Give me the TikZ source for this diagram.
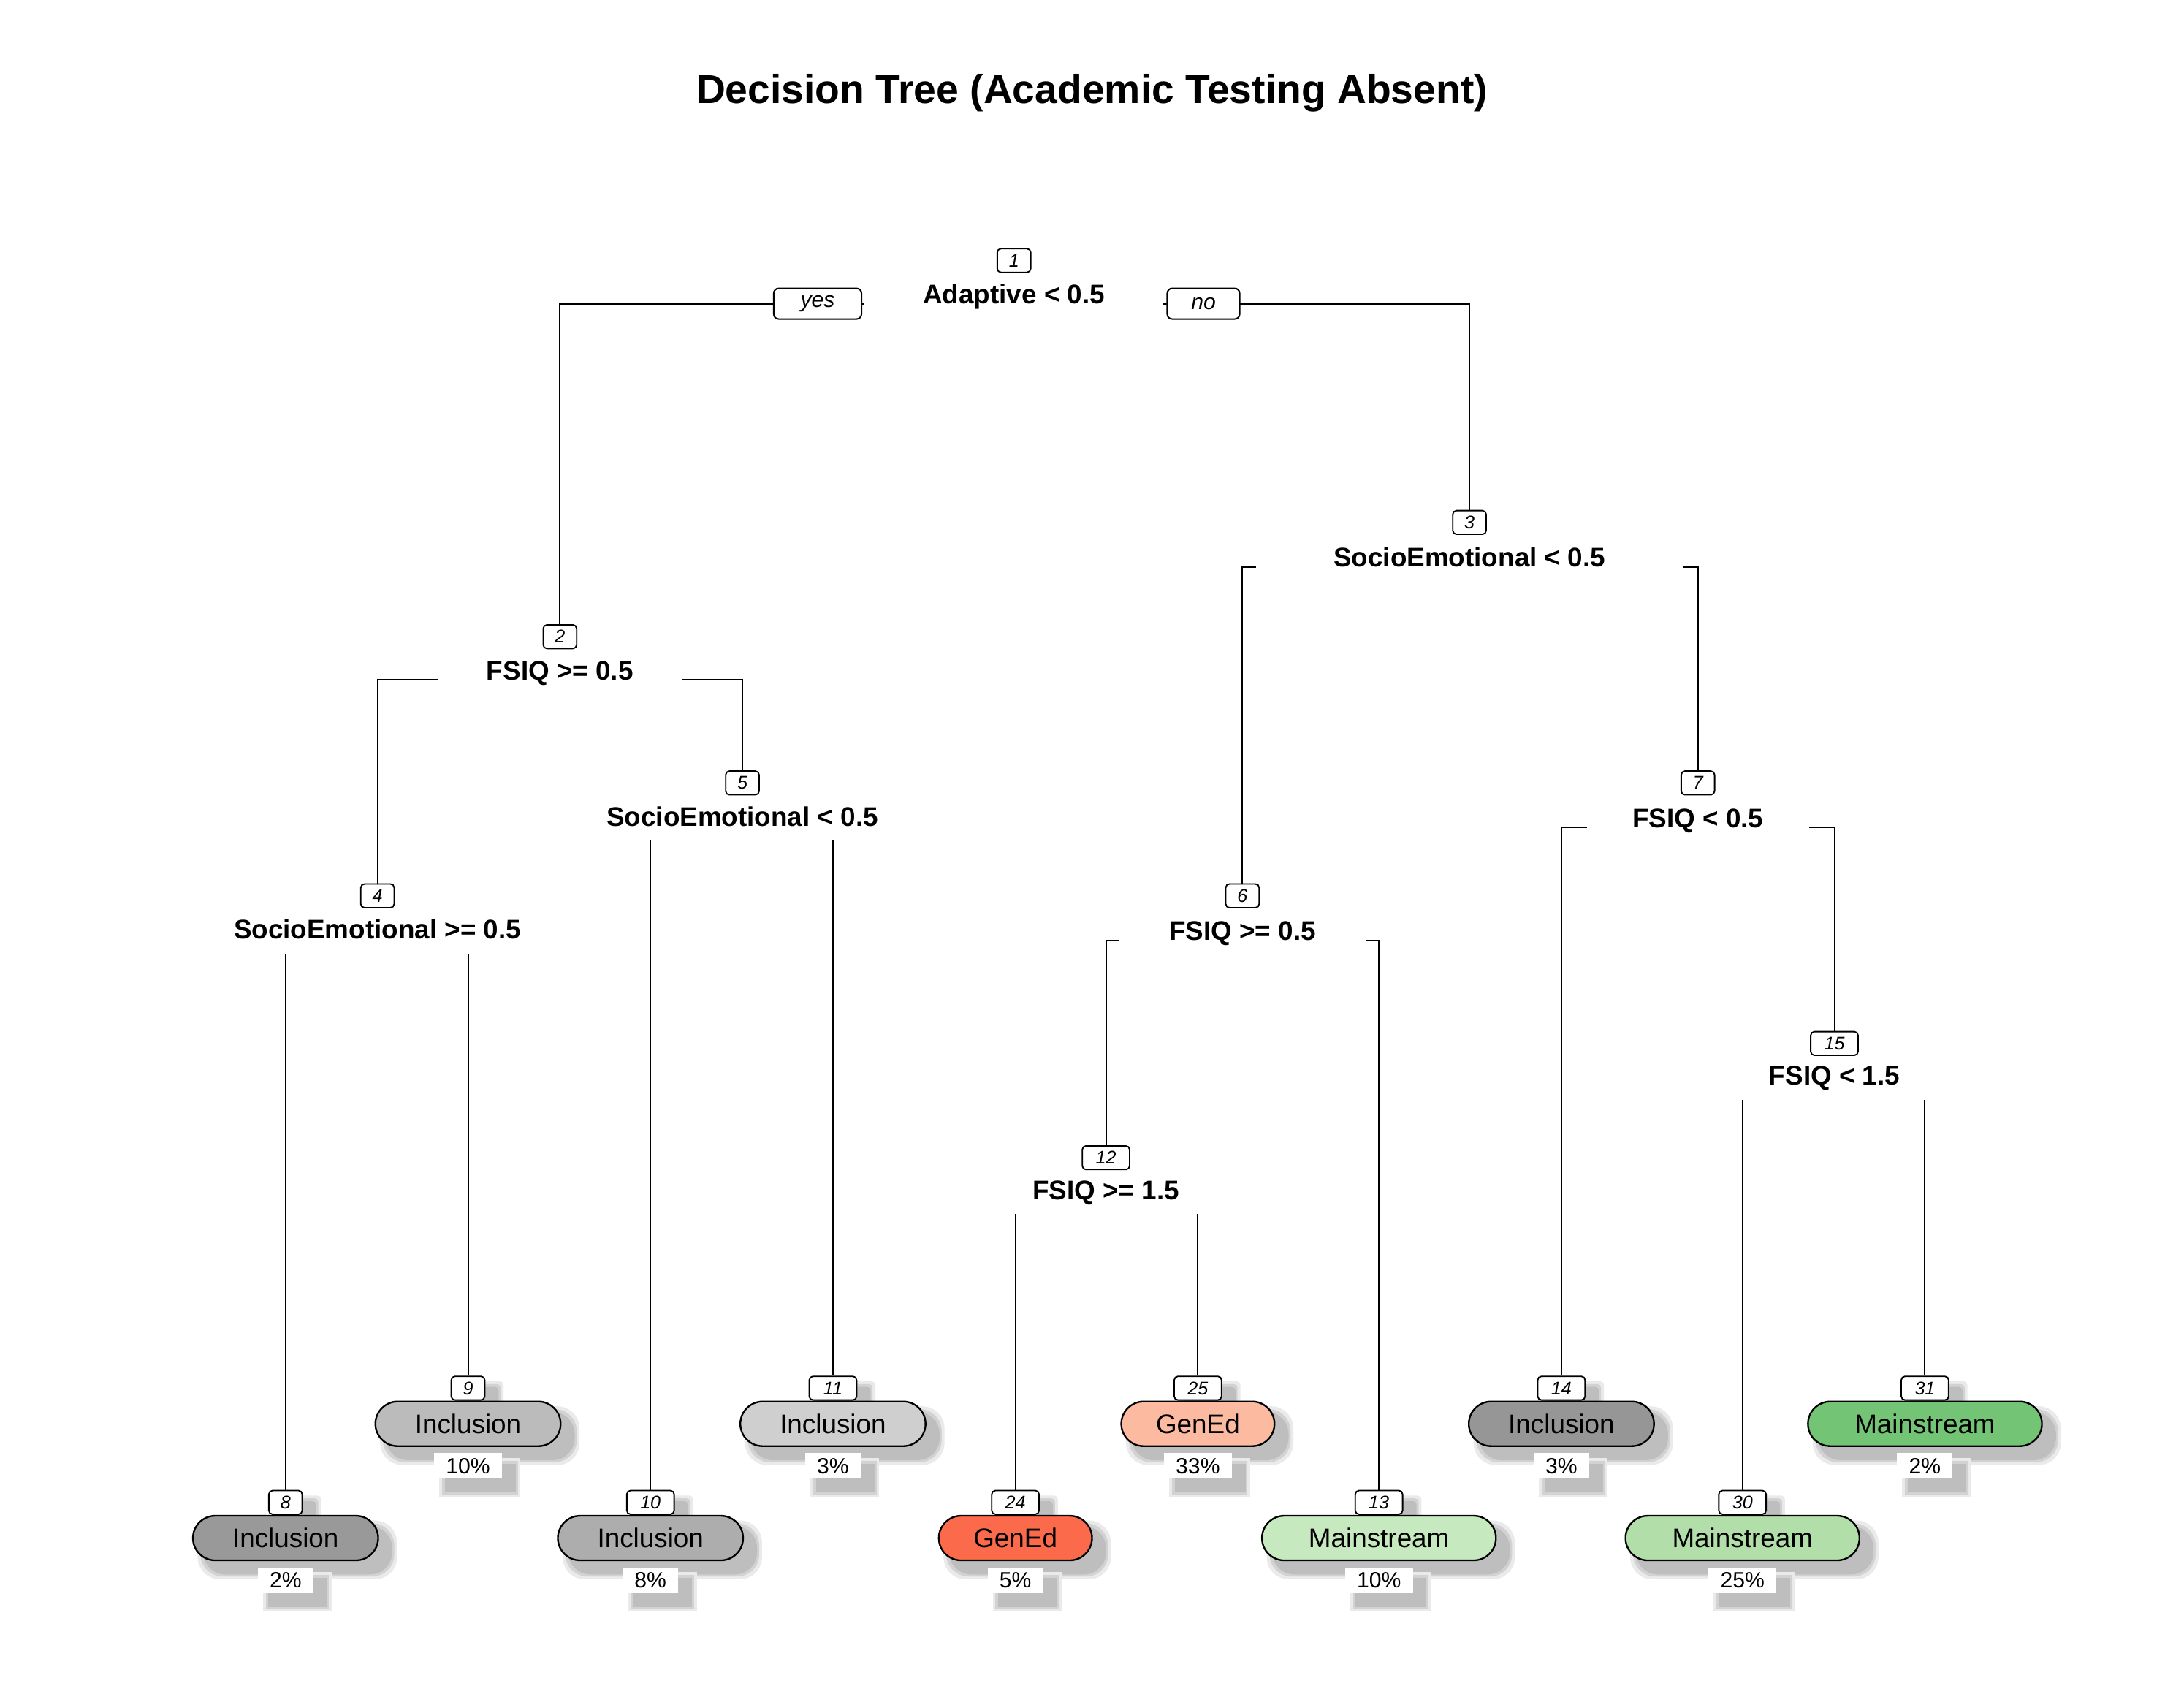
\documentclass[tikz,border=0pt]{standalone}
\usepackage{fontspec}
\setmainfont{Liberation Sans}
\pgfdeclarelayer{shadowlayer}
\pgfdeclarelayer{linelayer}
\pgfsetlayers{shadowlayer,linelayer,main}
\definecolor{cIa}{HTML}{999999}
\definecolor{cIb}{HTML}{969696}
\definecolor{cIc}{HTML}{ADADAD}
\definecolor{cId}{HTML}{BBBBBB}
\definecolor{cIe}{HTML}{CFCFCF}
\definecolor{cGa}{HTML}{FB6A4A}
\definecolor{cGb}{HTML}{FCBBA1}
\definecolor{cMa}{HTML}{C7E9C0}
\definecolor{cMb}{HTML}{B2DFA9}
\definecolor{cMc}{HTML}{74C476}
\definecolor{shmain}{HTML}{BEBEBE}
\definecolor{shmid}{HTML}{D2D2D2}
\definecolor{shhalo}{HTML}{EAEAEA}
\tikzset{
  splitlab/.style={anchor=base, font=\fontsize{11}{13}\selectfont\bfseries, text depth=0pt, inner ysep=5.7pt, inner xsep=0pt},
  numbox/.style={draw, line width=0.55pt, fill=white, rounded corners=1.5pt, font=\fontsize{7.5}{9}\selectfont\itshape, minimum height=0.34cm, inner sep=0pt, minimum width=0.48cm},
  yesno/.style={draw, line width=0.6pt, fill=white, rounded corners=2pt, font=\fontsize{9}{11}\selectfont\itshape, minimum height=0.44cm, inner sep=0pt},
  pill/.style={draw, line width=0.7pt, rounded corners=0.32cm, minimum height=0.64cm, inner sep=0pt, font=\fontsize{11}{13}\selectfont},
  pctbox/.style={fill=white, font=\fontsize{9}{11}\selectfont, minimum height=0.37cm, inner ysep=0pt, inner xsep=0.17cm},
  tline/.style={line width=0.6pt},
}
\newcommand\shbox[2]{%
  \begin{pgfonlayer}{shadowlayer}
    \fill[shhalo, rounded corners=#2] ([shift={(4,4)}]#1.north west) rectangle ([shift={(13,13)}]#1.south east);
    \fill[shmid, rounded corners=#2] ([shift={(6,6)}]#1.north west) rectangle ([shift={(11,11)}]#1.south east);
    \fill[shmain, rounded corners=#2] ([shift={(8,8)}]#1.north west) rectangle ([shift={(9.5,9.5)}]#1.south east);
  \end{pgfonlayer}}
\newcommand\mkleaf[8]{%
  \node[pill, fill=#4, minimum width=#6] (p#1) at (#2,#3) {#5};
  \node[numbox, minimum width=#8, anchor=south] (b#1) at (p#1.north) {#1};
  \node[pctbox, anchor=north] (q#1) at ([yshift=-0.08cm]p#1.south) {#7};
  \shbox{p#1}{0.32cm}\shbox{b#1}{1.5pt}\shbox{q#1}{0pt}%
}
\begin{document}
\begin{tikzpicture}[x=0.02cm, y=-0.02cm]
\begin{pgfonlayer}{shadowlayer}
\fill[white] (0,0) rectangle (1568,1218);
\end{pgfonlayer}
\useasboundingbox (0,0) rectangle (1568,1218);

\node[font=\fontsize{16.5}{20}\selectfont\bfseries] (title) at (784,67) {Decision Tree (Academic Testing Absent)};

% split nodes
\node[splitlab, minimum width=4.28cm] (s1) at (728,218) {Adaptive < 0.5};
\node[numbox] (b1) at (728,187) {1};
\node[splitlab, minimum width=3.5cm] (s2) at (402,488) {FSIQ >= 0.5};
\node[numbox] (b2) at (402,457) {2};
\node[splitlab, minimum width=6.12cm] (s3) at (1055,407) {SocioEmotional < 0.5};
\node[numbox] (b3) at (1055,375) {3};
\node[splitlab] (s4) at (271,674) {SocioEmotional >= 0.5};
\node[numbox] (b4) at (271,643) {4};
\node[splitlab] (s5) at (533,593) {SocioEmotional < 0.5};
\node[numbox] (b5) at (533,562) {5};
\node[splitlab, minimum width=3.52cm] (s6) at (892,675) {FSIQ >= 0.5};
\node[numbox] (b6) at (892,643) {6};
\node[splitlab, minimum width=3.18cm] (s7) at (1219,594) {FSIQ < 0.5};
\node[numbox] (b7) at (1219,562) {7};
\node[splitlab] (s12) at (794,861) {FSIQ >= 1.5};
\node[numbox, minimum width=0.68cm] (b12) at (794,831) {12};
\node[splitlab] (s15) at (1317,779) {FSIQ < 1.5};
\node[numbox, minimum width=0.68cm] (b15) at (1317,749) {15};

% leaves
\mkleaf{9}{336}{1022}{cId}{Inclusion}{2.66cm}{10\%}{0.48cm}
\mkleaf{11}{598}{1022}{cIe}{Inclusion}{2.66cm}{3\%}{0.68cm}
\mkleaf{25}{860}{1022}{cGb}{GenEd}{2.2cm}{33\%}{0.68cm}
\mkleaf{14}{1121}{1022}{cIb}{Inclusion}{2.66cm}{3\%}{0.68cm}
\mkleaf{31}{1382}{1022}{cMc}{Mainstream}{3.36cm}{2\%}{0.68cm}
\mkleaf{8}{205}{1104}{cIa}{Inclusion}{2.66cm}{2\%}{0.48cm}
\mkleaf{10}{467}{1104}{cIc}{Inclusion}{2.66cm}{8\%}{0.68cm}
\mkleaf{24}{729}{1104}{cGa}{GenEd}{2.2cm}{5\%}{0.68cm}
\mkleaf{13}{990}{1104}{cMa}{Mainstream}{3.36cm}{10\%}{0.68cm}
\mkleaf{30}{1251}{1104}{cMb}{Mainstream}{3.36cm}{25\%}{0.68cm}

% yes / no
\node[yesno, minimum width=1.26cm] (yes) at (587,218) {yes};
\node[yesno, minimum width=1.04cm] (no) at (864,218) {no};

% connectors
\begin{pgfonlayer}{linelayer}
\draw[tline] (s1.base west) -| (b2.north);
\draw[tline] (s1.base east) -| (b3.north);
\draw[tline] (s2.base west) -| (b4.north);
\draw[tline] (s2.base east) -| (b5.north);
\draw[tline] (s3.base west) -| (b6.north);
\draw[tline] (s3.base east) -| (b7.north);
\draw[tline] (s4.south -| b8.north) -- (b8.north);
\draw[tline] (s4.south -| b9.north) -- (b9.north);
\draw[tline] (s5.south -| b10.north) -- (b10.north);
\draw[tline] (s5.south -| b11.north) -- (b11.north);
\draw[tline] (s6.base west) -| (b12.north);
\draw[tline] (s6.base east) -| (b13.north);
\draw[tline] (s7.base west) -| (b14.north);
\draw[tline] (s7.base east) -| (b15.north);
\draw[tline] (s12.south -| b24.north) -- (b24.north);
\draw[tline] (s12.south -| b25.north) -- (b25.north);
\draw[tline] (s15.south -| b30.north) -- (b30.north);
\draw[tline] (s15.south -| b31.north) -- (b31.north);
\end{pgfonlayer}
\end{tikzpicture}
\end{document}
